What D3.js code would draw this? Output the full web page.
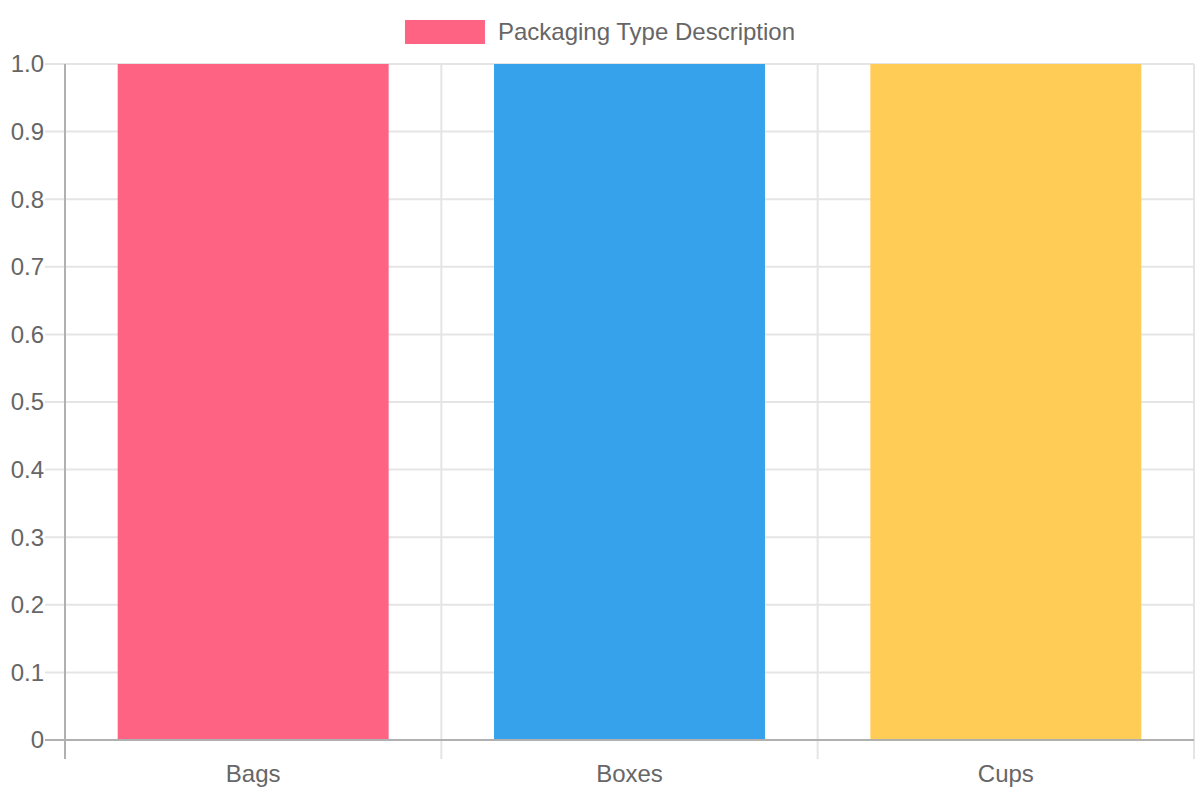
<!DOCTYPE html>
<html>
<head>
<meta charset="utf-8">
<script src="https://cdn.jsdelivr.net/npm/d3@7"></script>
<style>
  body { margin: 0; background: #fff; }
  svg text { font-family: "Liberation Sans", Arial, Helvetica, sans-serif; fill: #666; }
</style>
</head>
<body>
<svg id="chart" width="1200" height="800"></svg>
<script>
// data
var categories = ["Bags", "Boxes", "Cups"];
var values = [1, 1, 1];
var barColors = ["#ff6384", "#36a2eb", "#ffcd56"];
var yTicks = [0, 0.1, 0.2, 0.3, 0.4, 0.5, 0.6, 0.7, 0.8, 0.9, 1.0];
var seriesLabel = "Packaging Type Description";

var svg = d3.select("#chart"),
    margin = {top: 64, right: 6, bottom: 60, left: 65},
    width  = +svg.attr("width")  - margin.left - margin.right,
    height = +svg.attr("height") - margin.top  - margin.bottom,
    g = svg.append("g").attr("transform", `translate(${margin.left},${margin.top})`);

var xScale = d3.scaleBand().domain(categories).range([0, width])
        .paddingInner(0.28).paddingOuter(0.14),
    xGrid = d3.scaleLinear().domain([0, categories.length]).range([0, width]),
    yScale = d3.scaleLinear().domain([0, 1]).range([height, 0]);

var gridColor = "#e5e5e5", axisColor = "#b0b0b0";

// horizontal grid lines + y tick marks
g.selectAll(".hgrid")
    .data(yTicks)
    .enter().append("line")
    .attr("class", "hgrid")
    .attr("x1", -20).attr("x2", width)
    .attr("y1", d => yScale(d)).attr("y2", d => yScale(d))
    .attr("stroke", d => d === 0 ? axisColor : gridColor)
    .attr("stroke-width", 2);

// vertical grid lines
g.selectAll(".vgrid")
    .data(d3.range(categories.length + 1))
    .enter().append("line")
    .attr("class", "vgrid")
    .attr("x1", d => xGrid(d)).attr("x2", d => xGrid(d))
    .attr("y1", 0).attr("y2", height + 19)
    .attr("stroke", d => d === 0 ? axisColor : gridColor)
    .attr("stroke-width", 2);

// bars
g.selectAll(".bar")
    .data(values)
    .enter().append("rect")
    .attr("class", "bar")
    .attr("x", (d, i) => xScale(categories[i]))
    .attr("y", d => yScale(d))
    .attr("width", xScale.bandwidth())
    .attr("height", d => height - yScale(d))
    .attr("fill", (d, i) => barColors[i]);

// redraw the zero line over the bars
g.append("line")
    .attr("x1", -20).attr("x2", width)
    .attr("y1", yScale(0)).attr("y2", yScale(0))
    .attr("stroke", axisColor).attr("stroke-width", 2);

// y tick labels
g.selectAll(".ylabel")
    .data(yTicks)
    .enter().append("text")
    .attr("class", "ylabel")
    .attr("x", -21)
    .attr("y", d => yScale(d))
    .attr("dy", "0.35em")
    .attr("text-anchor", "end")
    .attr("font-size", "24px")
    .text(d => d === 0 ? "0" : d.toFixed(1));

// x tick labels
g.selectAll(".xlabel")
    .data(categories)
    .enter().append("text")
    .attr("class", "xlabel")
    .attr("x", d => xScale(d) + xScale.bandwidth() / 2)
    .attr("y", height + 34)
    .attr("dy", "0.35em")
    .attr("text-anchor", "middle")
    .attr("font-size", "24px")
    .text(d => d);

// legend, centred on the page
var legend = svg.append("g");
var legendText = legend.append("text")
    .attr("y", 32)
    .attr("dy", "0.35em")
    .attr("font-size", "24px")
    .text(seriesLabel);
var tw = legendText.node().getComputedTextLength(),
    boxW = 80, gap = 13,
    lx = +svg.attr("width") / 2 - (boxW + gap + tw) / 2;
legend.append("rect")
    .attr("x", lx).attr("y", 20)
    .attr("width", boxW).attr("height", 24)
    .attr("fill", barColors[0]);
legendText.attr("x", lx + boxW + gap);
</script>
</body>
</html>
